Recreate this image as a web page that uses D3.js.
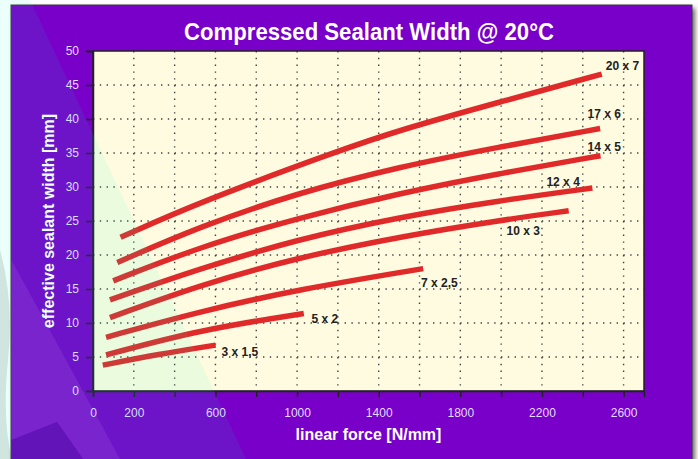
<!DOCTYPE html>
<html>
<head>
<meta charset="utf-8">
<script src="https://cdn.jsdelivr.net/npm/d3@7"></script>
<style>
  body { margin: 0; background: #fff; }
  text { font-family: "Liberation Sans", Arial, sans-serif; }
</style>
</head>
<body>
<svg id="chart"></svg>
<script>
// curves: [linear force N/mm, width mm]
var s20x7 = [[135,22.6],[524,27.8],[1200,35.3],[1504,38.4],[1993,42.5],[2493,46.6]];
var s17x6 = [[119,18.9],[524,24.2],[1000,29.1],[1504,33.0],[1993,35.9],[2485,38.6]];
var s14x5 = [[99,16.2],[524,21.2],[1000,25.4],[1504,29.1],[1993,32.0],[2487,34.6]];
var s12x4 = [[83,13.4],[524,18.0],[1000,22.3],[1504,25.6],[1993,28.0],[2447,29.85]];
var s10x3 = [[83,10.8],[524,15.6],[1000,19.6],[1504,22.7],[1993,25.1],[2331,26.5]];
var s7x25 = [[64,7.9],[524,11.7],[1000,14.9],[1618,18.0]];
var s5x2  = [[64,5.3],[524,9.0],[1033,11.4]];
var s3x15 = [[48,3.8],[320,5.4],[601,6.75]];

var seriesData = [s20x7, s17x6, s14x5, s12x4, s10x3, s7x25, s5x2, s3x15];
var seriesNames = ["20 x 7","17 x 6","14 x 5","12 x 4","10 x 3","7 x 2,5","5 x 2","3 x 1,5"];
// where each name sits (data units, left / baseline)
var labelAt = [[2513,47.2],[2423,40.1],[2423,35.3],[2222,30.1],[2026,22.9],[1607,15.3],[1071,10.0],[630,5.15]];

var xTickValues = d3.range(0, 2601, 200);
var xTickLabels = [0,200,600,1000,1400,1800,2200,2600];
var yTickValues = d3.range(0, 51, 5);

var W = 698, H = 459;
var pLeft = 93, pRight = 644, pTop = 51, pBottom = 391;

var svg = d3.select("#chart").attr("width", W).attr("height", H);

var defs = svg.append("defs");
var blur = defs.append("filter").attr("id","shadow").attr("x","-5%").attr("y","-5%").attr("width","115%").attr("height","115%");
blur.append("feGaussianBlur").attr("stdDeviation", 2.5);

// left grey strip at the bottom
svg.append("path")
    .attr("d","M0,250 Q14,300 8,360 Q2,420 12,459 L0,459 Z")
    .attr("fill","#e2e2e2");

// panel shadow + panel
svg.append("rect")
    .attr("x", 14).attr("y", 8).attr("width", 681).attr("height", 460)
    .attr("fill", "#666").attr("filter","url(#shadow)");
svg.append("rect")
    .attr("x", 11).attr("y", 5).attr("width", 681).attr("height", 460)
    .attr("fill", "#7800c8").attr("stroke","#3a3a3a").attr("stroke-width",1);

// faint magenta patch and darker corner at lower left
svg.append("path")
    .attr("d","M11.5,260 L11.5,440 L57,422 L83,459 L120,459 Z")
    .attr("fill","#8412ce");
svg.append("path")
    .attr("d","M11.5,440 L57,422 L83,459 L11.5,459 Z")
    .attr("fill","#6c00b8");

var x = d3.scaleLinear().domain([0, 2700]).range([pLeft, pRight]);
var y = d3.scaleLinear().domain([0, 50]).range([pBottom, pTop]);

// plot area
svg.append("rect")
    .attr("x", pLeft).attr("y", pTop)
    .attr("width", pRight-pLeft).attr("height", pBottom-pTop)
    .attr("fill", "#fefbe0");

// dotted grid
svg.append("g").selectAll("line")
    .data(xTickValues.filter(function(d){return d > 0;}))
    .enter().append("line")
    .attr("x1", function(d){return x(d);}).attr("x2", function(d){return x(d);})
    .attr("y1", pTop).attr("y2", pBottom)
    .attr("stroke", "#444").attr("stroke-width", 1.4)
    .attr("stroke-dasharray", "1.4,5.4");
svg.append("g").selectAll("line")
    .data(yTickValues.filter(function(d){return d > 0 && d < 50;}))
    .enter().append("line")
    .attr("y1", function(d){return y(d);}).attr("y2", function(d){return y(d);})
    .attr("x1", pLeft).attr("x2", pRight)
    .attr("stroke", "#444").attr("stroke-width", 1.4)
    .attr("stroke-dasharray", "1.4,5.4");

// curves
var line = d3.line()
    .x(function(d){return x(d[0]);})
    .y(function(d){return y(d[1]);})
    .curve(d3.curveBasis);

svg.append("g").selectAll("path")
    .data(seriesData)
    .enter().append("path")
    .attr("d", line)
    .attr("fill", "none")
    .attr("stroke", "#e02a2a")
    .attr("stroke-width", 5.5);

svg.append("g").selectAll("text")
    .data(seriesNames)
    .enter().append("text")
    .attr("x", function(d,i){return x(labelAt[i][0]);})
    .attr("y", function(d,i){return y(labelAt[i][1]);})
    .attr("font-size", 12).attr("font-weight", "bold")
    .attr("fill", "#222")
    .text(function(d){return d;});

// frame
svg.append("rect")
    .attr("x", pLeft).attr("y", pTop)
    .attr("width", pRight-pLeft).attr("height", pBottom-pTop)
    .attr("fill", "none").attr("stroke", "#222").attr("stroke-width", 1.5);

// axes
var xAxis = d3.axisBottom(x)
    .tickValues(xTickValues)
    .tickSize(6).tickPadding(11)
    .tickFormat(function(d){return xTickLabels.indexOf(d) >= 0 ? d : "";});
var gx = svg.append("g").attr("transform","translate(0,"+pBottom+")").call(xAxis);

var yAxis = d3.axisLeft(y)
    .tickValues(yTickValues)
    .tickSize(7).tickPadding(7);
var gy = svg.append("g").attr("transform","translate("+pLeft+",0)").call(yAxis);

[gx, gy].forEach(function(g){
    g.attr("font-size", 12).attr("font-family", "'Liberation Sans', Arial, sans-serif");
    g.select(".domain").attr("stroke","#222").attr("stroke-width",1.5);
    g.selectAll(".tick line").attr("stroke","#222").attr("stroke-width",1.5);
    g.selectAll(".tick text").attr("fill","#e4dcff");
});

// titles
svg.append("text")
    .attr("x", 369).attr("y", 40)
    .attr("text-anchor","middle")
    .attr("font-size", 24).attr("font-weight","bold")
    .attr("fill","#fff")
    .attr("textLength", 370).attr("lengthAdjust","spacingAndGlyphs")
    .text("Compressed Sealant Width @ 20°C");

svg.append("text")
    .attr("x", (pLeft+pRight)/2).attr("y", 440)
    .attr("text-anchor","middle")
    .attr("font-size", 16).attr("font-weight","bold")
    .attr("fill","#fff")
    .text("linear force [N/mm]");

svg.append("text")
    .attr("transform","translate(54,"+((pTop+pBottom)/2)+") rotate(-90)")
    .attr("text-anchor","middle")
    .attr("font-size", 16).attr("font-weight","bold")
    .attr("fill","#fff")
    .text("effective sealant width [mm]");

// pale diagonal sheen over the left side
svg.append("path")
    .attr("d","M0,0 L30,0 L246,459 L0,459 Z")
    .attr("fill","#00ffd0")
    .attr("opacity", 0.08);
</script>
</body>
</html>
